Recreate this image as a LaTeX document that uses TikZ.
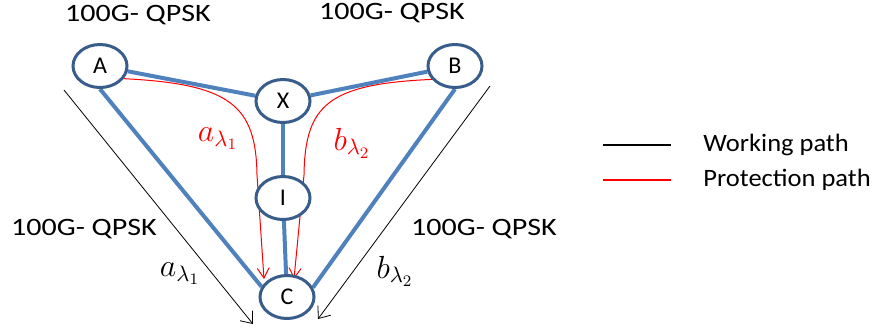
\documentclass[tikz,border=0pt]{standalone}
\usepackage{fix-cm}
\usepackage{fontspec}
\setmainfont{Carlito}
\usetikzlibrary{shapes.geometric, arrows.meta, backgrounds}
\definecolor{linkblue}{RGB}{79,129,189}
\definecolor{nodeblue}{RGB}{56,93,138}

\begin{document}
\begin{tikzpicture}[x=0.5pt, y=-0.5pt,
		nodo/.style={ellipse, draw=nodeblue, line width=1.5pt, fill=white, minimum width=27pt, minimum height=21.5pt, inner sep=0pt, font=\fontsize{12}{14}\selectfont},
		link/.style={linkblue, line width=2pt},
		lavoro/.style={black, line width=0.4pt, -{Straight Barb[length=5pt, width=8pt]}},
		protez/.style={red, line width=0.5pt, -{Straight Barb[length=5pt, width=6pt]}},
		etich/.style={font=\fontsize{12.5}{15}\selectfont, xscale=1.2, transform shape},
		legenda/.style={font=\fontsize{12.5}{15}\selectfont, xscale=1.06, transform shape, anchor=west, inner sep=0pt},
		lambda/.style={font=\fontsize{16}{19}\selectfont}]
	\useasboundingbox (0,0) rectangle (879,329);
	
	%%% Nodi
	\node [nodo] (A) at (100,66) {A};
	\node [nodo] (B) at (455,66) {B};
	\node [nodo] (X) at (283,101) {X};
	\node [nodo] (I) at (283,198) {I};
	\node [nodo] (C) at (287,297) {C};
	
	%%% Punti liberi
	\coordinate (aW) at (64,90);	% inizio working a
	\coordinate (aT) at (253,324);
	\coordinate (bW) at (490,86);	% inizio working b
	\coordinate (bT) at (318,319);
	\coordinate (aP) at (264,279);	% fine protezione a
	\coordinate (bP) at (294,279);	% fine protezione b
	
	%%% Collegamenti
	\begin{pgfonlayer}{background}
		\draw [link] (A) -- (X);
		\draw [link] (X) -- (B);
		\draw [link] (X) -- (I);
		\draw [link] (I) -- (C);
		\draw [link] (A.south) -- (C.158);
		\draw [link] (B.south) -- (C.20);
		
		\draw [protez] (A.-28) .. controls (230,84) and (256,105) .. (257,175) -- (aP);
		\draw [protez] (B.-150) .. controls (328,84) and (305,105) .. (304,175) -- (bP);
		
		\draw [lavoro] (aW) -- (aT);
		\draw [lavoro] (bW) -- (bT);
	\end{pgfonlayer}
	
	%%% Etichette
	\node [etich] (qA) at (138,15) {100G- QPSK};
	\node [etich] (qB) at (392,13) {100G- QPSK};
	\node [etich] (qL) at (84,229) {100G- QPSK};
	\node [etich] (qR) at (484,229) {100G- QPSK};
	\node [lambda, red] (la) at (218,139) {$a_{\lambda_1}$};
	\node [lambda, red] (lb) at (352,143) {$b_{\lambda_2}$};
	\node [lambda] (wa) at (180,274) {$a_{\lambda_1}$};
	\node [lambda] (wb) at (395,271) {$b_{\lambda_2}$};
	
	%%% Legenda
	\coordinate (k1) at (603,145);
	\coordinate (k2) at (671,145);
	\coordinate (r1) at (603,180);
	\coordinate (r2) at (671,180);
	\draw [black, line width=1pt] (k1) -- (k2);
	\draw [red, line width=1pt] (r1) -- (r2);
	\node [legenda] (tw) at (703,145) {Working path};
	\node [legenda] (tp) at (703,180) {Protection path};
\end{tikzpicture}
\end{document}
